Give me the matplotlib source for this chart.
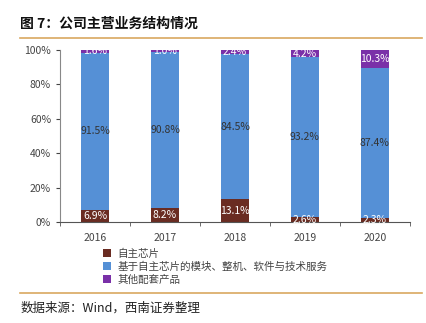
import matplotlib
matplotlib.use("Agg")
import matplotlib.pyplot as plt
from matplotlib.lines import Line2D
from matplotlib.patches import Patch
import numpy as np

plt.rcParams['font.family'] = ['Noto Sans CJK SC', 'DejaVu Sans']

years = ["2016", "2017", "2018", "2019", "2020"]
own_chips = [6.9, 8.2, 13.1, 2.6, 2.3]
modules_services = [91.5, 90.8, 84.5, 93.2, 87.4]
other_products = [1.6, 1.0, 2.4, 4.2, 10.3]
series_names = ["自主芯片", "基于自主芯片的模块、整机、软件与技术服务", "其他配套产品"]
colors = ["#6a2c22", "#5590d6", "#7a30a8"]
label_colors = ["white", "#333333", "white"]

fig = plt.figure(figsize=(4.26, 3.23), dpi=100)
ax = fig.add_axes([0.141, 0.313, 0.821, 0.532])

x = np.arange(len(years))
series = [own_chips, modules_services, other_products]
bottom = np.zeros(len(years))
for vals, col, lc in zip(series, colors, label_colors):
    vals = np.array(vals)
    ax.bar(x, vals, bottom=bottom, width=0.4, color=col, edgecolor='none')
    for xi, b, v in zip(x, bottom, vals):
        ax.text(xi, b + v / 2, f"{v:.1f}%", ha='center', va='center',
                fontsize=7.5, color=lc, family=['Noto Sans CJK SC', 'DejaVu Sans'])
    bottom += vals

ax.set_xlim(-0.5, len(years) - 0.5)
ax.set_ylim(0, 100)
ax.set_yticks(np.arange(0, 101, 20))
ax.set_yticklabels([f"{v}%" for v in range(0, 101, 20)])
ax.set_xticks(x)
ax.set_xticklabels(years)
ax.tick_params(axis='x', length=0, labelsize=7.5, colors='#444444', pad=8)
ax.tick_params(axis='y', length=3, labelsize=7.5, colors='#444444', direction='out')
ax.set_xticks(np.arange(-0.5, len(years), 1), minor=True)
ax.tick_params(axis='x', which='minor', length=3, color='#555555', direction='out')
for s in ['top', 'right']:
    ax.spines[s].set_visible(False)
ax.spines['left'].set_color('#888888')
ax.spines['bottom'].set_color('#555555')
ax.spines['left'].set_linewidth(0.8)
ax.spines['bottom'].set_linewidth(0.8)

handles = [Patch(facecolor=c, edgecolor='none') for c in colors]
fig.legend(handles, series_names, loc='upper left', bbox_to_anchor=(0.232, 0.244),
           frameon=False, fontsize=7.6, handlelength=0.75, handleheight=0.75,
           handletextpad=0.6, labelspacing=0.25, borderaxespad=0, labelcolor='#444444')

fig.text(0.047, 0.925, "图 7：公司主营业务结构情况", fontsize=10, fontweight='bold',
         color='#111111', va='center')
fig.add_artist(Line2D([0.047, 0.99], [0.882, 0.882], color='#d9a860', lw=1.2))
fig.add_artist(Line2D([0.047, 0.99], [0.093, 0.093], color='#d9a860', lw=1.2))
fig.text(0.047, 0.045, "数据来源：Wind，西南证券整理", fontsize=9, style='italic',
         color='#222222', va='center')

fig.savefig("out.png", dpi=100)
